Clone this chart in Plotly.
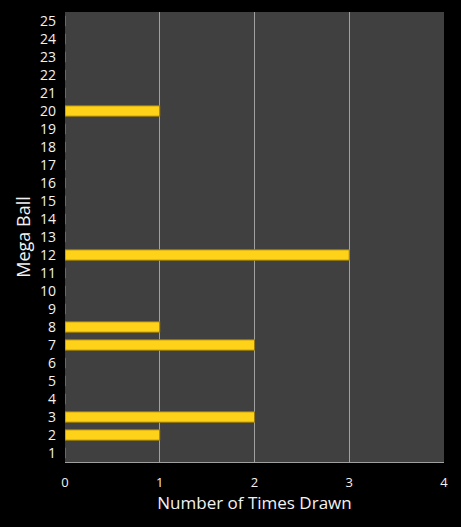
import plotly.graph_objects as go

balls = [str(i) for i in range(1, 26)]
counts = [0, 1, 2, 0, 0, 0, 2, 1, 0, 0, 0, 3, 0, 0, 0, 0, 0, 0, 0, 1, 0, 0, 0, 0, 0]
x_ticks = [0, 1, 2, 3, 4]

fig = go.Figure()
fig.add_trace(go.Bar(
    x=counts, y=balls, orientation="h",
    marker=dict(color="#FFD21A", line=dict(color="#9A7A00", width=1)),
    width=0.58, hoverinfo="skip",
))
fig.update_layout(
    width=461, height=527,
    margin=dict(l=65, r=17, t=12, b=65),
    paper_bgcolor="#000000", plot_bgcolor="#404040",
    font=dict(family="Open Sans, DejaVu Sans", color="#F2F2F2", size=13),
    showlegend=False,
    xaxis=dict(range=[0, 4], tickvals=x_ticks, showgrid=True, gridcolor="#A0A0A0", gridwidth=1,
               zeroline=False, showline=True, linecolor="#A0A0A0", ticks="outside", ticklen=8,
               tickcolor="rgba(0,0,0,0)",
               title=dict(text="Number of Times Drawn", font=dict(size=17), standoff=6),
               tickfont=dict(size=13)),
    yaxis=dict(type="category", categoryorder="array", categoryarray=balls,
               showgrid=False, zeroline=False, ticks="", ticklabelstandoff=8,
               title=dict(text="Mega Ball", font=dict(size=18), standoff=4),
               tickfont=dict(size=14)),
)
fig.write_html("out.html", config={"displayModeBar": False},
               post_script="document.body.style.margin='0';document.body.style.background='#000';")
